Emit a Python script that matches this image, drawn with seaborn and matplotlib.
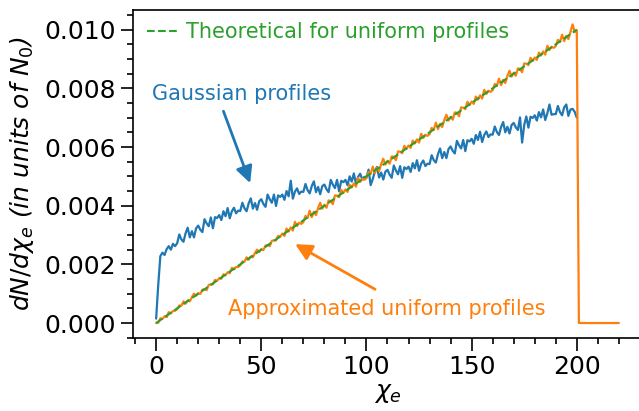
import numpy as np
import pandas as pd
import matplotlib
matplotlib.use("Agg")
import matplotlib.pyplot as plt
from matplotlib.ticker import MultipleLocator
import seaborn as sns

sns.set_theme(style="ticks")
plt.rcParams['font.family'] = ['DejaVu Sans']
plt.rcParams.update({'text.color': 'black', 'axes.labelcolor': 'black',
                     'xtick.color': 'black', 'ytick.color': 'black',
                     'axes.edgecolor': 'black'})

blue, orange, green = '#1f77b4', '#ff7f0e', '#2ca02c'

# chi_e grid, step 1
chi = list(range(0, 201))

# dN/dchi values, in units of 1e-5
gauss = [15, 130, 228, 240, 232, 252, 262, 250, 270, 262,
         272, 302, 285, 277, 306, 325, 292, 313, 292, 323,
         332, 318, 310, 354, 340, 330, 360, 323, 361, 358,
         368, 351, 381, 364, 392, 357, 381, 393, 374, 383,
         382, 410, 391, 381, 408, 425, 390, 409, 386, 415,
         422, 406, 396, 438, 422, 410, 438, 399, 435, 430,
         438, 420, 450, 432, 485, 424, 448, 459, 440, 448,
         447, 474, 453, 442, 467, 483, 446, 464, 439, 467,
         472, 456, 446, 488, 472, 460, 488, 449, 485, 480,
         488, 470, 500, 482, 510, 474, 498, 509, 490, 498,
         497, 523, 470, 491, 517, 532, 496, 513, 489, 516,
         522, 506, 495, 537, 520, 507, 535, 495, 531, 525,
         533, 515, 545, 527, 555, 519, 543, 554, 535, 543,
         542, 572, 555, 547, 576, 595, 562, 583, 562, 593,
         602, 587, 578, 621, 606, 595, 624, 586, 623, 619,
         628, 611, 641, 624, 652, 617, 641, 653, 634, 643,
         642, 670, 651, 641, 668, 685, 650, 669, 646, 675,
         682, 667, 658, 701, 615, 675, 704, 666, 703, 699,
         708, 690, 719, 701, 728, 692, 715, 745, 710, 712,
         712, 740, 719, 708, 735, 745, 706, 728, 730, 720,
         700]

approx = [0, 1, 16, 14, 23, 20, 37, 33, 41, 42,
          47, 60, 59, 74, 66, 77, 74, 88, 100, 93,
          102, 99, 114, 115, 112, 130, 132, 132, 147, 144,
          153, 151, 166, 163, 173, 170, 188, 183, 191, 191,
          197, 210, 209, 224, 216, 227, 224, 239, 250, 242,
          252, 249, 264, 266, 262, 280, 282, 282, 297, 294,
          305, 297, 322, 312, 326, 315, 345, 331, 342, 338,
          344, 365, 358, 383, 361, 379, 368, 392, 410, 390,
          403, 393, 418, 416, 405, 435, 434, 429, 454, 443,
          455, 447, 472, 462, 476, 465, 495, 481, 492, 488,
          494, 515, 508, 533, 511, 529, 518, 542, 560, 540,
          553, 543, 568, 566, 555, 585, 584, 579, 604, 593,
          605, 597, 622, 612, 626, 615, 645, 631, 642, 638,
          644, 665, 658, 683, 661, 679, 668, 692, 710, 690,
          703, 693, 718, 716, 705, 735, 734, 729, 754, 743,
          755, 747, 772, 762, 776, 765, 795, 781, 792, 788,
          794, 815, 808, 833, 811, 829, 818, 842, 860, 840,
          853, 843, 868, 866, 855, 885, 884, 879, 904, 893,
          905, 897, 922, 912, 926, 915, 945, 931, 942, 938,
          944, 965, 958, 983, 961, 979, 968, 992, 1018, 992,
          998]
# flat tail after the cut-off
tail_chi = [201, 220]
tail_val = [0, 0]

theory_chi = [0, 200]
theory_val = [0.0, 0.010]

df_g = pd.DataFrame({'chi': chi, 'val': np.array(gauss) * 1e-5})
df_a = pd.DataFrame({'chi': chi + tail_chi, 'val': np.array(approx + tail_val) * 1e-5})
df_t = pd.DataFrame({'chi': theory_chi, 'val': theory_val})

fig = plt.figure(figsize=(6.39, 4.11), dpi=100)
ax = fig.add_axes([133/639, 73/411, 509/639, 328/411])

sns.lineplot(data=df_g, x='chi', y='val', color=blue, lw=1.6, ax=ax)
sns.lineplot(data=df_a, x='chi', y='val', color=orange, lw=1.6, ax=ax)
sns.lineplot(data=df_t, x='chi', y='val', color=green, lw=1.5, ls='--', ax=ax,
             label='Theoretical for uniform profiles')

ax.set_xlim(-11, 231)
ax.set_ylim(-0.00051, 0.01067)
ax.xaxis.set_minor_locator(MultipleLocator(10))
ax.yaxis.set_minor_locator(MultipleLocator(0.0005))
ax.set_yticks([0, 0.002, 0.004, 0.006, 0.008, 0.010])
ax.set_yticklabels(['0.000', '0.002', '0.004', '0.006', '0.008', '0.010'])
ax.tick_params(which='major', length=9, width=1.2, labelsize=18, pad=3)
ax.tick_params(which='minor', length=4.5, width=1.2)
for s in ax.spines.values():
    s.set_linewidth(1.2)

ax.set_xlabel(r'$\chi_e$', fontsize=18, labelpad=2)
ax.set_ylabel(r'$dN/d\chi_e$ (in units of $N_0$)', fontsize=18, fontstyle='italic', labelpad=6)

# annotations
ax.text(-1.9, 0.00759, 'Gaussian profiles', color=blue, fontsize=15, ha='left', va='baseline')
ax.annotate('', xy=(44.7, 0.00477), xytext=(32.0, 0.00722),
            arrowprops=dict(arrowstyle='-|>', color=blue, lw=2, mutation_scale=25,
                            shrinkA=0, shrinkB=0))
ax.text(34.2, 0.00027, 'Approximated uniform profiles', color=orange, fontsize=15,
        ha='left', va='baseline')
ax.annotate('', xy=(66.1, 0.00269), xytext=(104.1, 0.00115),
            arrowprops=dict(arrowstyle='-|>', color=orange, lw=2, mutation_scale=25,
                            shrinkA=0, shrinkB=0))

ax.legend(loc='upper left', frameon=False, fontsize=15, handlelength=1.5,
          handletextpad=0.4, labelcolor='linecolor', bbox_to_anchor=(-0.01, 1.02))

fig.savefig('out.png', dpi=100)
